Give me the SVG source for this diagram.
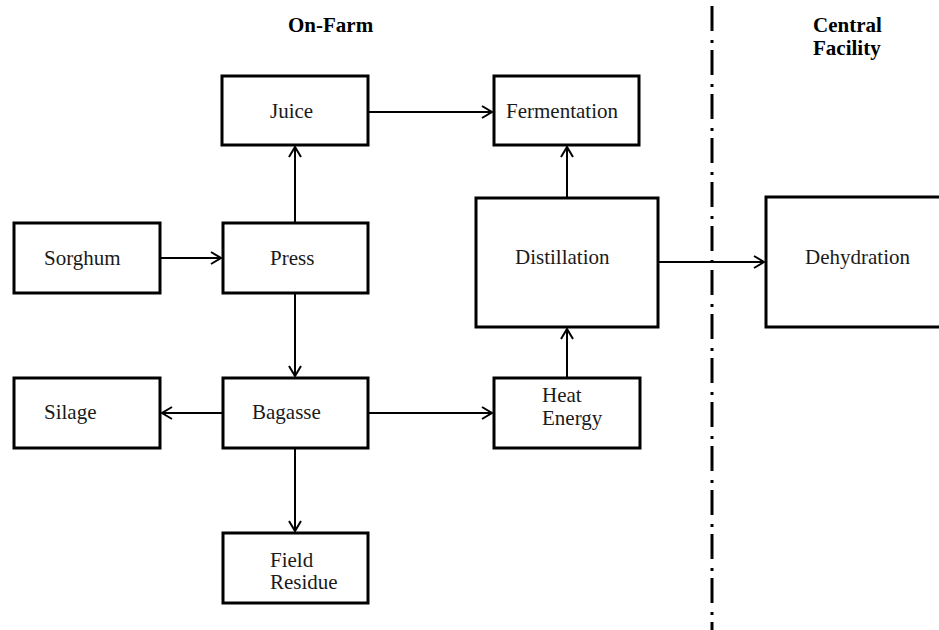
<svg xmlns="http://www.w3.org/2000/svg" width="939" height="630" viewBox="0 0 939 630">
<style>
.box{fill:#fff;stroke:#000;stroke-width:3}
.t{font-family:"Liberation Serif","Times New Roman",serif;font-size:21px;fill:#1a1a1a}
.h{font-family:"Liberation Serif","Times New Roman",serif;font-size:21px;font-weight:bold;fill:#000}
.c{stroke:#000;stroke-width:2;fill:none;marker-end:url(#arr)}
</style>
<defs>
<marker id="arr" markerUnits="userSpaceOnUse" markerWidth="14" markerHeight="14" viewBox="-12 -7 14 14" refX="0" refY="0" orient="auto">
<path d="M-10,-6 L0,0 L-10,6" fill="none" stroke="#000" stroke-width="2"/>
</marker>
</defs>
<rect width="939" height="630" fill="#fff"/>
<text class="h" x="288" y="32">On-Farm</text>
<text class="h" x="813" y="32">Central</text>
<text class="h" x="813" y="55">Facility</text>
<line x1="712" y1="6" x2="712" y2="630" stroke="#000" stroke-width="3" stroke-dasharray="25 9 3 7"/>
<g id="connectors">
<line class="c" x1="368" y1="112" x2="492" y2="112"/>
<line class="c" x1="160" y1="258" x2="221" y2="258"/>
<line class="c" x1="295" y1="223" x2="295" y2="147"/>
<line class="c" x1="295" y1="293" x2="295" y2="376"/>
<line class="c" x1="223" y1="413" x2="162" y2="413"/>
<line class="c" x1="368" y1="413" x2="492" y2="413"/>
<line class="c" x1="295" y1="448" x2="295" y2="531"/>
<line class="c" x1="567" y1="378" x2="567" y2="329"/>
<line class="c" x1="567" y1="198" x2="567" y2="147"/>
<line class="c" x1="658" y1="262" x2="764" y2="262"/>
</g>
<g id="juice"><rect class="box" x="222" y="76" width="146" height="69"/><text class="t" x="270" y="118">Juice</text></g>
<g id="fermentation"><rect class="box" x="494" y="76" width="145" height="69"/><text class="t" x="506" y="118">Fermentation</text></g>
<g id="sorghum"><rect class="box" x="14" y="223" width="146" height="70"/><text class="t" x="44" y="265">Sorghum</text></g>
<g id="press"><rect class="box" x="223" y="223" width="145" height="70"/><text class="t" x="270" y="265">Press</text></g>
<g id="distillation"><rect class="box" x="476" y="198" width="182" height="129"/><text class="t" x="515" y="264">Distillation</text></g>
<g id="dehydration"><rect class="box" x="766" y="197" width="180" height="130"/><text class="t" x="805" y="264">Dehydration</text></g>
<g id="silage"><rect class="box" x="14" y="378" width="146" height="70"/><text class="t" x="44" y="419">Silage</text></g>
<g id="bagasse"><rect class="box" x="223" y="378" width="145" height="70"/><text class="t" x="252" y="419">Bagasse</text></g>
<g id="heat-energy"><rect class="box" x="494" y="378" width="146" height="70"/><text class="t" x="542" y="402">Heat</text><text class="t" x="542" y="425">Energy</text></g>
<g id="field-residue"><rect class="box" x="223" y="533" width="145" height="70"/><text class="t" x="270" y="567">Field</text><text class="t" x="270" y="589">Residue</text></g>
</svg>
